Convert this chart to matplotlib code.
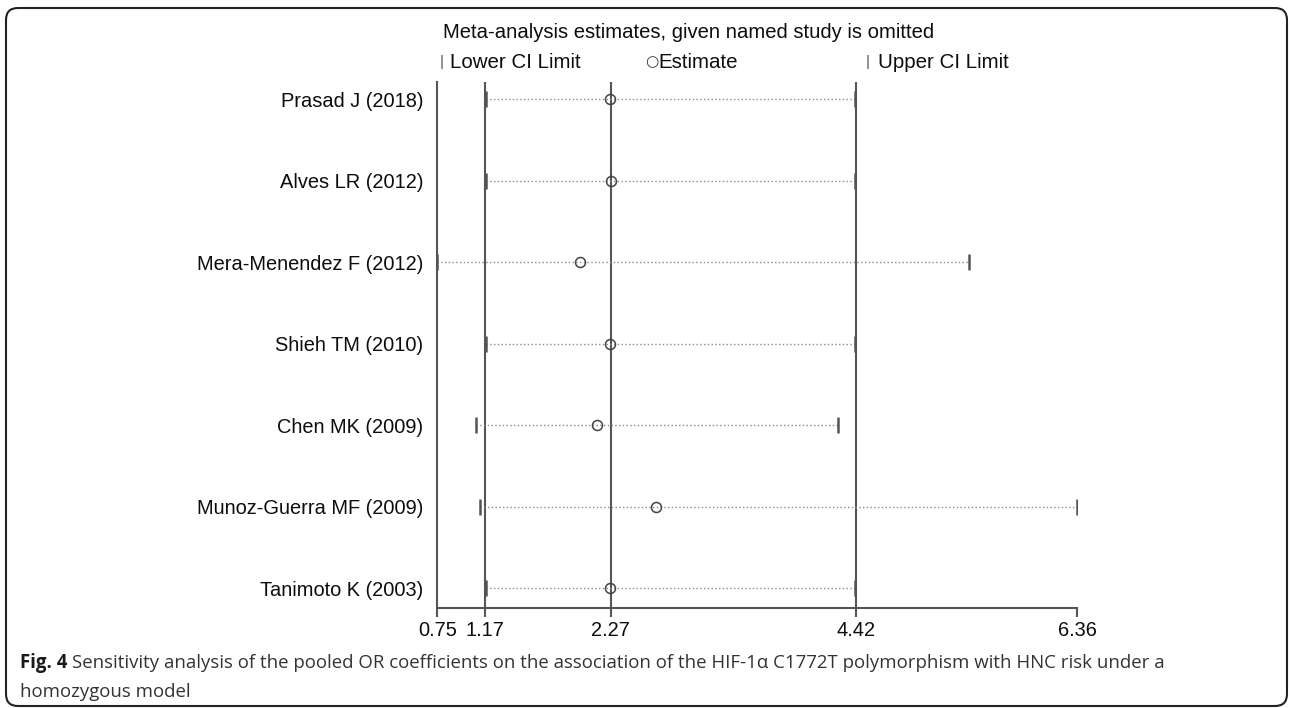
import matplotlib
matplotlib.use("Agg")
import matplotlib.pyplot as plt
from matplotlib.patches import FancyBboxPatch

plt.rcParams["font.family"] = ["Liberation Sans", "DejaVu Sans"]

# studies (omitted one at a time) and the re-pooled OR with its CI
studies = ["Prasad J (2018)", "Alves LR (2012)", "Mera-Menendez F (2012)",
           "Shieh TM (2010)", "Chen MK (2009)", "Munoz-Guerra MF (2009)",
           "Tanimoto K (2003)"]
estimate = [2.26, 2.27, 2.00, 2.26, 2.15, 2.67, 2.26]
lower = [1.18, 1.18, 0.75, 1.18, 1.09, 1.12, 1.18]
upper = [4.41, 4.41, 5.41, 4.41, 4.26, 6.36, 4.41]

# overall pooled estimate and CI (vertical reference lines)
overall = [1.17, 2.27, 4.42]
xticks = [0.75, 1.17, 2.27, 4.42, 6.36]

W, H = 1290, 708
LINE = "#555555"
TXT = "#0d0d0d"


def fx(px):
    return px / W


def fy(py):
    return 1 - py / H


fig = plt.figure(figsize=(W / 100, H / 100), dpi=100)
ax = fig.add_axes([fx(437.3), fy(607.7), (1077.4 - 437.3) / W, (607.7 - 82) / H])

rows = list(range(1, len(studies) + 1))

ax.hlines(rows, lower, upper, colors="#8a8a8a", linestyles=(0, (1, 1.7)), linewidth=1.0, zorder=2)
ax.plot(lower, rows, "|", ms=11, mew=1.8, color=LINE, zorder=3)
ax.plot(upper, rows, "|", ms=11, mew=1.8, color=LINE, zorder=3)
ax.plot(estimate, rows, "o", ms=7.2, mfc="none", mec="#444444", mew=1.1, zorder=4)

for v in overall:
    ax.axvline(v, color=LINE, lw=1.5, zorder=1)

ax.set_xlim(xticks[0], xticks[-1])
ax.set_ylim(7.24, 0.79)
ax.set_yticks(rows, studies)
ax.set_xticks(xticks, [f"{v:.2f}" for v in xticks])
ax.tick_params(axis="y", length=0, pad=10, labelsize=14.4, labelcolor=TXT)
ax.tick_params(axis="x", length=6.5, width=1.5, color=LINE, labelsize=14.4, pad=3,
               labelcolor=TXT)
for s in ["top", "right"]:
    ax.spines[s].set_visible(False)
for s in ["left", "bottom"]:
    ax.spines[s].set_color(LINE)
    ax.spines[s].set_linewidth(1.5)

# title + legend row, Stata style
fig.text(fx(443), fy(33), "Meta-analysis estimates, given named study is omitted",
         fontsize=14.6, va="center", ha="left", color=TXT)
fig.text(fx(441.7), fy(62), "|", fontsize=11, va="center", ha="center", color=LINE)
fig.text(fx(450), fy(62), "Lower CI Limit", fontsize=14.8, va="center", color=TXT)
fig.text(fx(651.7), fy(62), "\u25cb", family=["DejaVu Sans"], fontsize=11, va="center",
         ha="center", color="#333333")
fig.text(fx(658), fy(62), "Estimate", fontsize=14.8, va="center", color=TXT)
fig.text(fx(867.7), fy(62), "|", fontsize=11, va="center", ha="center", color=LINE)
fig.text(fx(878), fy(62), "Upper CI Limit", fontsize=14.8, va="center", color=TXT)

# caption
cap_font = ["Open Sans", "DejaVu Sans"]
t = fig.text(fx(20), fy(663), "Fig. 4", family=cap_font, weight="bold", fontsize=13.4,
             va="center", color="#1a1a1a")
fig.canvas.draw()
bb = t.get_window_extent()
fig.text((bb.x1 + 5) / W, fy(663),
         "Sensitivity analysis of the pooled OR coefficients on the association of the "
         "HIF-1\u03b1 C1772T polymorphism with HNC risk under a",
         family=cap_font, fontsize=13.4, va="center", color="#333333")
fig.text(fx(20), fy(692), "homozygous model", family=cap_font, fontsize=13.4,
         va="center", color="#333333")

border = FancyBboxPatch((0.06, 0.02), 12.81, 6.98,
                        boxstyle="round,pad=0,rounding_size=0.12",
                        transform=fig.dpi_scale_trans, fill=False, ec="#222222", lw=1.5)
fig.add_artist(border)

fig.savefig("out.png", dpi=100)
